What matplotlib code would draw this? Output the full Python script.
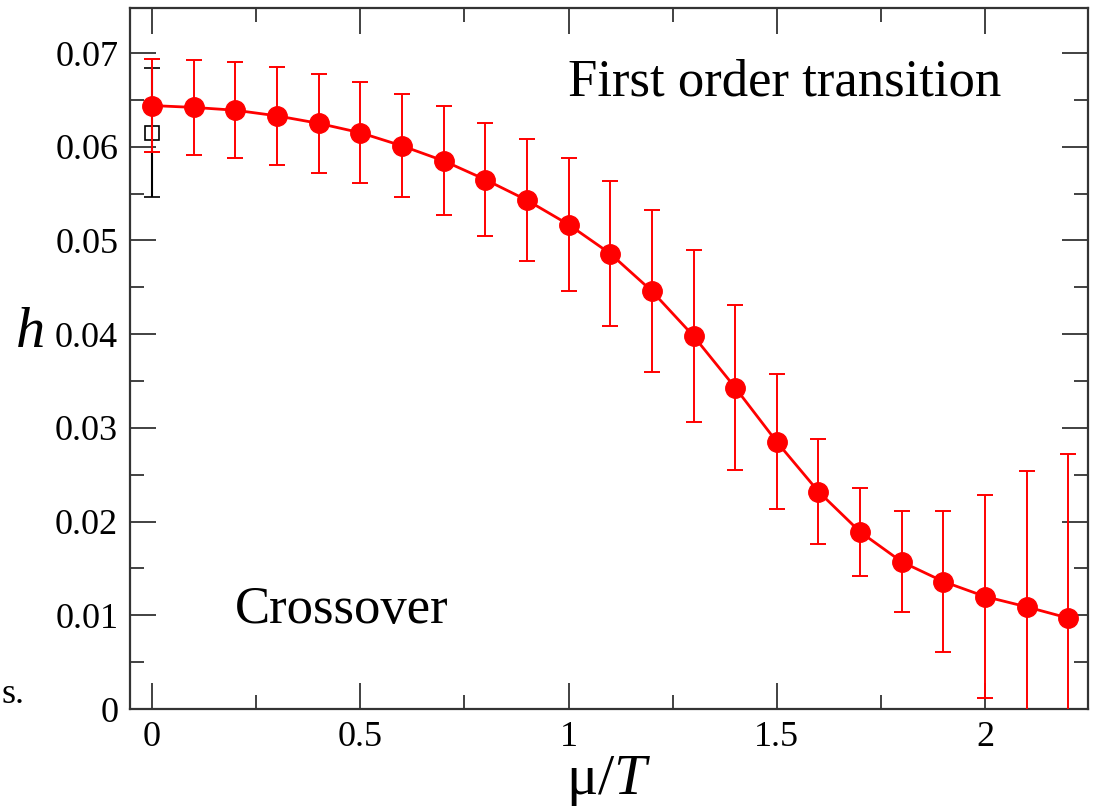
import numpy as np
import matplotlib
matplotlib.use("Agg")
import matplotlib.pyplot as plt
from matplotlib.ticker import MultipleLocator

plt.rcParams['font.family'] = ['Liberation Serif', 'DejaVu Serif']
plt.rcParams['mathtext.fontset'] = 'custom'
plt.rcParams['mathtext.rm'] = 'Liberation Serif'
plt.rcParams['mathtext.it'] = 'Liberation Serif:italic'

# h(mu/T) with errors
mu_T = np.round(np.arange(0, 2.21, 0.1), 1)
h = [0.0644, 0.0642, 0.0639, 0.0633, 0.0625, 0.0615, 0.0601, 0.0585,
     0.0565, 0.0543, 0.0517, 0.0486, 0.0446, 0.0398, 0.0343, 0.0285,
     0.0232, 0.0189, 0.0157, 0.0136, 0.0120, 0.0109, 0.0097]
h_err = [0.0050, 0.0051, 0.0051, 0.0052, 0.0053, 0.0054, 0.0055, 0.0058,
         0.0060, 0.0065, 0.0071, 0.0077, 0.0086, 0.0092, 0.0088, 0.0072,
         0.0056, 0.0047, 0.0054, 0.0075, 0.0108, 0.0145, 0.0175]

# single reference point at mu=0
ref_x = [0.0]
ref_h = [0.0615]
ref_err = [0.0069]

fig = plt.figure(figsize=(10.95, 8.09), dpi=100)
ax = fig.add_axes([0.1187, 0.1236, 0.8749, 0.8664])

ax.errorbar(ref_x, ref_h, yerr=ref_err, fmt='s', color='black', mfc='none',
            mec='black', ms=9.5, mew=1.2, elinewidth=1.5, capsize=6, capthick=1.5,
            zorder=2)
ax.errorbar(mu_T, h, yerr=h_err, fmt='-o', color='red', ms=14, lw=2,
            elinewidth=1.4, capsize=6, capthick=1.4, zorder=3)

ax.set_xlim(-0.053, 2.247)
ax.set_ylim(0, 0.0748)
ax.xaxis.set_major_locator(MultipleLocator(0.5))
ax.xaxis.set_minor_locator(MultipleLocator(0.25))
ax.yaxis.set_major_locator(MultipleLocator(0.01))
ax.yaxis.set_minor_locator(MultipleLocator(0.005))
ax.xaxis.set_major_formatter(plt.FuncFormatter(lambda v, p: f"{v:g}"))
ax.yaxis.set_major_formatter(plt.FuncFormatter(lambda v, p: f"{v:.2f}" if v > 0 else "0"))

ax.tick_params(which='both', direction='in', top=True, right=True,
               labelsize=26, color='#333333', width=1.3, pad=8.5)
ax.tick_params(which='major', length=18.5)
ax.tick_params(which='minor', length=10)
for s in ax.spines.values():
    s.set_linewidth(1.6)
    s.set_color('#333333')

ax.set_xlabel(r'$\mathrm{\mu}/T$', fontsize=42, labelpad=0)
ax.set_ylabel(r'$h$', fontsize=42, rotation=0, labelpad=0)
ax.yaxis.set_label_coords(-0.105, 0.5)

ax.text(0.999, 0.0655, 'First order transition', fontsize=38)
ax.text(0.199, 0.0092, 'Crossover', fontsize=38)

fig.text(0.001, 0.131, 's.', fontsize=26, ha='left', va='baseline')

fig.savefig('out.png', dpi=100)
